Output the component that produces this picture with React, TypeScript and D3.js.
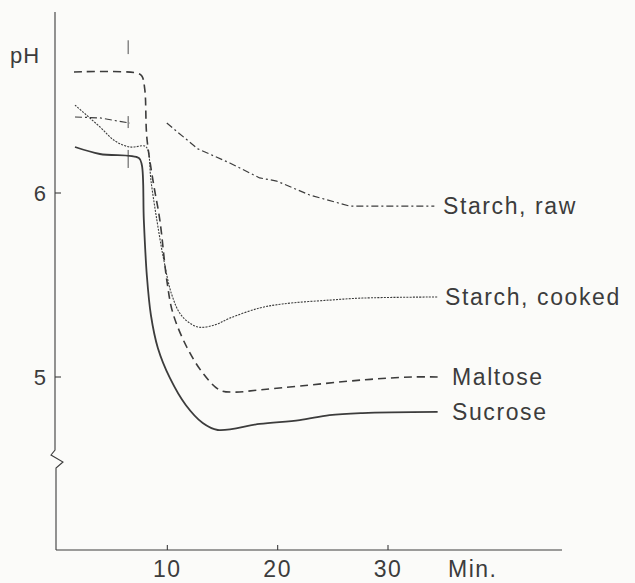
import React from "react";
import * as d3 from "d3";

// time in minutes, pH
const maltose: [number, number][] = [
  [1.54, 6.658], [7.24, 6.652], [7.69, 6.636], [7.96, 6.56], [8.14, 6.304],
  [8.69, 6.071], [9.32, 5.853], [9.95, 5.527], [10.5, 5.348], [11.76, 5.163],
  [13.21, 5.022], [14.75, 4.929], [16.1, 4.918], [18.37, 4.93], [22.0, 4.951],
  [27.7, 4.984], [32.2, 5.0], [34.5, 5.0],
];

const sucrose: [number, number][] = [
  [1.63, 6.25], [3.89, 6.212], [7.42, 6.19], [7.69, 6.152], [7.87, 5.853],
  [8.14, 5.554], [8.51, 5.337], [9.14, 5.158], [10.23, 4.995], [11.67, 4.848],
  [13.21, 4.75], [14.57, 4.712], [18.37, 4.745], [22.0, 4.766], [24.7, 4.793],
  [27.7, 4.804], [34.5, 4.81],
];

const starchCooked: [number, number][] = [
  [1.63, 6.478], [3.89, 6.359], [5.25, 6.283], [6.61, 6.25], [7.96, 6.255],
  [8.24, 6.234], [8.51, 6.071], [9.05, 5.853], [9.68, 5.636], [10.41, 5.446],
  [11.31, 5.332], [12.76, 5.272], [14.3, 5.283], [15.66, 5.32], [18.37, 5.375],
  [20.45, 5.397], [24.7, 5.418], [27.7, 5.429], [34.5, 5.435],
];

// raw starch is drawn in two pieces with a gap around the drop
const starchRawA: [number, number][] = [[1.63, 6.413], [3.89, 6.408], [6.61, 6.38]];
const starchRawB: [number, number][] = [
  [9.95, 6.38], [12.76, 6.24], [15.66, 6.163], [18.37, 6.082], [19.91, 6.065],
  [22.9, 5.989], [26.52, 5.929], [34.2, 5.929],
];

const markerTime = 6.45;
const markerRanges: [number, number][] = [[6.83, 6.755], [6.418, 6.353], [6.234, 6.136]];

const xTicks = [10, 20, 30];
const yTicks = [5, 6];

const labels = [
  { name: "Starch, raw", pH: 5.93, dx: 0 },
  { name: "Starch, cooked", pH: 5.435, dx: 2 },
  { name: "Maltose", pH: 5.0, dx: 9 },
  { name: "Sucrose", pH: 4.81, dx: 9 },
];

const W = 635, H = 583;
const ink = "#3c3c3c";
const font = "'Liberation Sans', Arial, Helvetica, sans-serif";

export default function App() {
  const x = d3.scaleLinear().domain([0, 30]).range([57, 388]);
  const y = d3.scaleLinear().domain([5, 6]).range([377, 193]);

  const curved = d3.line<[number, number]>().x(d => x(d[0])).y(d => y(d[1])).curve(d3.curveCatmullRom.alpha(0.5));
  const straight = d3.line<[number, number]>().x(d => x(d[0])).y(d => y(d[1]));

  const axisX = 55;
  const axisTop = 12;
  const axisBottom = 550;
  const axisRight = 562;

  // y axis with the little break zig-zag near the bottom
  const yAxisPath = `M${axisX},${axisTop} L${axisX},450 L${axisX - 4},455 L${axisX + 8},462 L${axisX + 1},468 L${axisX + 1},${axisBottom}`;

  return (
    <svg width={W} height={H} style={{ position: "fixed", left: 0, top: 0, background: "#fbfbf9" }}>
      <g fill="none" stroke={ink} strokeWidth={1.1}>
        <path d={yAxisPath} />
        <line x1={axisX + 1} y1={axisBottom} x2={axisRight} y2={axisBottom} />
        {yTicks.map(t => (
          <line key={t} x1={axisX} x2={axisX + 6} y1={y(t)} y2={y(t)} />
        ))}
        {xTicks.map(t => (
          <line key={t} x1={x(t)} x2={x(t)} y1={axisBottom} y2={axisBottom - 5} />
        ))}
        {markerRanges.map((r, i) => (
          <line key={i} x1={x(markerTime)} x2={x(markerTime)} y1={y(r[0])} y2={y(r[1])} strokeWidth={0.9} />
        ))}
      </g>

      <g fill="none" stroke={ink} strokeLinejoin="round">
        <path d={curved(sucrose) || ""} strokeWidth={1.8} />
        <path d={curved(maltose) || ""} strokeWidth={1.6} strokeDasharray="8,5" />
        <path d={curved(starchCooked) || ""} strokeWidth={1.1} strokeDasharray="2,1.2" />
        <path d={straight(starchRawA) || ""} strokeWidth={1.2} strokeDasharray="7,3,2,3" />
        <path d={straight(starchRawB) || ""} strokeWidth={1.2} strokeDasharray="7,3,2,3" />
      </g>

      <g fill={ink} fontFamily={font}>
        <text x={10} y={63} fontSize={22} letterSpacing={1}>pH</text>
        {yTicks.map(t => (
          <text key={t} x={46} y={y(t)} dy="0.36em" fontSize={22} textAnchor="end">{t}</text>
        ))}
        {xTicks.map(t => (
          <text key={t} x={x(t)} y={577} fontSize={23} textAnchor="middle" letterSpacing={1.5}>{t}</text>
        ))}
        <text x={448} y={577} fontSize={23} letterSpacing={1.5}>Min.</text>
        {labels.map(l => (
          <text key={l.name} x={443 + l.dx} y={y(l.pH)} dy="0.36em" fontSize={23} letterSpacing={1.6}>{l.name}</text>
        ))}
      </g>
    </svg>
  );
}
